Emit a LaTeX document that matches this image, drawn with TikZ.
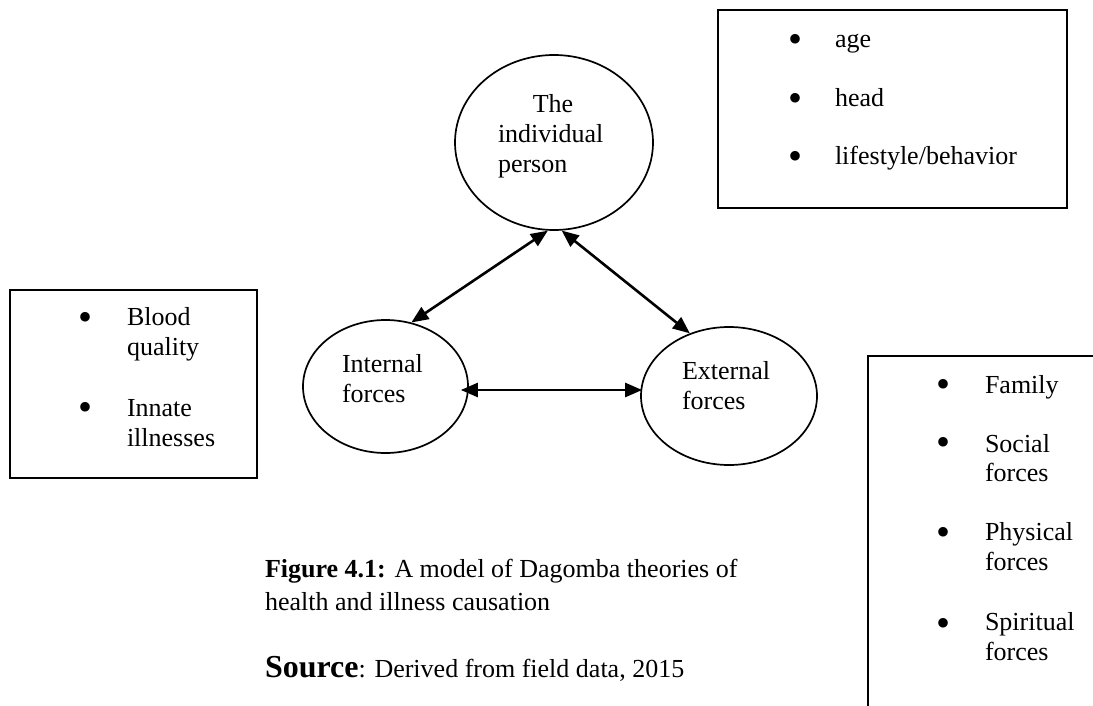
\documentclass[tikz,border=0pt]{standalone}
\usepackage{fontspec}
\setmainfont{Liberation Serif}
\usetikzlibrary{shapes.geometric,arrows.meta}
\begin{document}
\begin{tikzpicture}[x=1pt,y=-1pt,
  every node/.style={font=\fontsize{26}{30}\selectfont},
  txt/.style={anchor=base west,inner sep=0pt,outer sep=0pt},
  ctxt/.style={anchor=base,inner sep=0pt,outer sep=0pt},
  bul/.style={anchor=center,inner sep=0pt,outer sep=0pt,yshift=-3pt,font=\fontsize{40}{40}\selectfont},
  ell/.style={draw,ellipse,line width=1.7pt,inner sep=0pt},
  box/.style={draw,line width=1.8pt},
  arr/.style={line width=2.6pt,{Triangle[length=17pt,width=14pt]}-{Triangle[length=17pt,width=14pt]}}
]
\useasboundingbox (0,0) rectangle (1093,706);
\fill[white] (0,0) rectangle (1093,706);

% ellipses
\node[ell,minimum width=198pt,minimum height=175pt] (person) at (554,142.5) {};
\node[ell,minimum width=165pt,minimum height=133pt] (int) at (385.5,386.5) {};
\node[ell,minimum width=176pt,minimum height=138pt] (ext) at (729,396) {};

\node[ctxt] (pt1) at (553,113) {The};
\node[txt] (pt2) at (498,143) {individual};
\node[txt] (pt3) at (498,173) {person};
\node[txt] (it1) at (342,372) {Internal};
\node[txt] (it2) at (342,402) {forces};
\node[txt] (et1) at (682,379) {External};
\node[txt] (et2) at (682,409) {forces};

% arrows
\draw[arr] (person.266) -- (int.68);
\draw[arr] (person.275) -- (ext.122);
\draw[arr] ([shift={(-8,3.5)}]int.east) -- ([shift={(2,-6)}]ext.west);

% top right box
\draw[box] (718,10) rectangle (1067,208);
\node[bul] (ba1) at (795,40) {•};
\node[txt] (ta1) at (835,48) {age};
\node[bul] (ba2) at (795,99) {•};
\node[txt] (ta2) at (835,107) {head};
\node[bul] (ba3) at (795,157) {•};
\node[txt] (ta3) at (835,165) {lifestyle/behavior};

% left box
\draw[box] (10,290) rectangle (257,478);
\node[bul] (bl1) at (86,318) {•};
\node[txt] (tl1) at (127,325) {Blood};
\node[txt] (tl1b) at (127,355) {quality};
\node[bul] (bl2) at (86,408) {•};
\node[txt] (tl2) at (127,416) {Innate};
\node[txt] (tl2b) at (127,446) {illnesses};

% bottom right box (open to the right and bottom)
\draw[box] (1095,356) -- (868,356) -- (868,708);
\node[bul] (br1) at (943,385) {•};
\node[txt] (tr1) at (985,393) {Family};
\node[bul] (br2) at (943,443) {•};
\node[txt] (tr2) at (985,452) {Social};
\node[txt] (tr2b) at (985,481) {forces};
\node[bul] (br3) at (943,533) {•};
\node[txt] (tr3) at (985,540) {Physical};
\node[txt] (tr3b) at (985,570) {forces};
\node[bul] (br4) at (943,624) {•};
\node[txt] (tr4) at (985,630) {Spiritual};
\node[txt] (tr4b) at (985,660) {forces};

% caption
\node[txt] (cap1) at (265,577) {\textbf{Figure 4.1:} A model of Dagomba theories of};
\node[txt] (cap2) at (265,610) {health and illness causation};
\node[txt] (src) at (265,677) {{\fontsize{32}{36}\selectfont\textbf{Source}}: Derived from field data, 2015};
\end{tikzpicture}
\end{document}
